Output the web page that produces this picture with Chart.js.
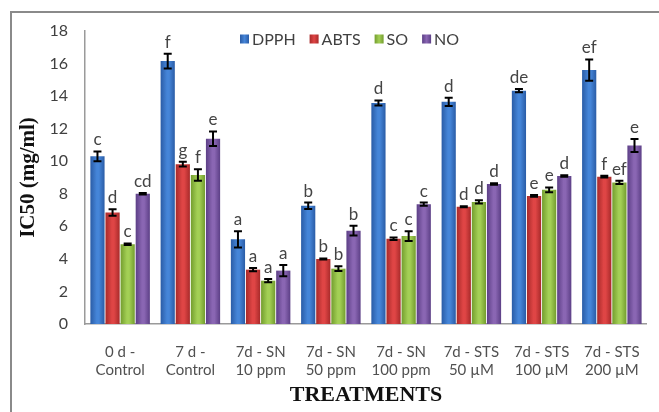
<!DOCTYPE html>
<html>
<head>
<meta charset="utf-8">
<script src="https://cdn.jsdelivr.net/npm/chart.js@4"></script>
<style>
  html, body { margin: 0; padding: 0; background: #fff; }
  #wrap { width: 659px; height: 412px; position: relative; }
</style>
</head>
<body>
<div id="wrap"><canvas id="chart" width="659" height="412"></canvas></div>
<script>
// treatments on the x axis
const categories = [
  ['0 d -', 'Control'], ['7 d -', 'Control'], ['7d - SN', '10 ppm'], ['7d - SN', '50 ppm'],
  ['7d - SN', '100 ppm'], ['7d - STS', '50 µM'], ['7d - STS', '100 µM'], ['7d - STS', '200 µM']
];

// IC50 values (mg/ml)
const dpph = [10.3, 16.15, 5.2, 7.26, 13.58, 13.65, 14.33, 15.6];
const abts = [6.85, 9.82, 3.34, 4.0, 5.24, 7.2, 7.87, 9.05];
const so   = [4.9, 9.15, 2.66, 3.4, 5.4, 7.5, 8.24, 8.7];
const no   = [8.0, 11.38, 3.28, 5.73, 7.36, 8.6, 9.09, 10.96];

// error bar half-widths
const dpphErr = [0.3, 0.45, 0.5, 0.2, 0.15, 0.25, 0.1, 0.65];
const abtsErr = [0.2, 0.15, 0.1, 0.03, 0.08, 0.03, 0.05, 0.05];
const soErr   = [0.05, 0.35, 0.1, 0.15, 0.3, 0.1, 0.15, 0.1];
const noErr   = [0.05, 0.45, 0.35, 0.3, 0.1, 0.05, 0.05, 0.4];

// significance letters
const dpphSig = ['c', 'f', 'a', 'b', 'd', 'd', 'de', 'ef'];
const abtsSig = ['d', 'g', 'a', 'b', 'c', 'd', 'e', 'f'];
const soSig   = ['c', 'f', 'a', 'b', 'c', 'd', 'e', 'ef'];
const noSig   = ['cd', 'e', 'a', 'b', 'c', 'd', 'd', 'e'];

const yTicks = { min: 0, max: 18, step: 2 };

const series = [
  { label: 'DPPH', data: dpph, err: dpphErr, sig: dpphSig, mid: '#4585d8', edge: '#2a5ca6' },
  { label: 'ABTS', data: abts, err: abtsErr, sig: abtsSig, mid: '#df4545', edge: '#a82a2a' },
  { label: 'SO',   data: so,   err: soErr,   sig: soSig,   mid: '#a3cf55', edge: '#739d2e' },
  { label: 'NO',   data: no,   err: noErr,   sig: noSig,   mid: '#8a66b3', edge: '#5c3f86' }
];

// frame around the figure (left + top edges visible)
const framePlugin = {
  id: 'frame',
  beforeDraw(chart) {
    const c = chart.ctx;
    c.save();
    c.fillStyle = '#fff';
    c.fillRect(0, 0, chart.width, chart.height);
    c.strokeStyle = '#8a8a8a';
    c.lineWidth = 2;
    c.beginPath();
    c.moveTo(11, chart.height);
    c.lineTo(11, 12);
    c.lineTo(chart.width, 12);
    c.stroke();
    c.restore();
  }
};

// cylinder-like shading on each bar
const shadePlugin = {
  id: 'shade',
  beforeDatasetsDraw(chart) {
    const c = chart.ctx;
    chart.data.datasets.forEach((ds, di) => {
      const s = series[di];
      chart.getDatasetMeta(di).data.forEach(el => {
        const half = el.width / 2;
        const g = c.createLinearGradient(el.x - half, 0, el.x + half, 0);
        g.addColorStop(0, s.edge);
        g.addColorStop(0.45, s.mid);
        g.addColorStop(0.6, s.mid);
        g.addColorStop(1, s.edge);
        el.options = Object.assign({}, el.options, { backgroundColor: g });
      });
    });
  }
};

// error bars + letters
const errPlugin = {
  id: 'errbars',
  afterDatasetsDraw(chart) {
    const c = chart.ctx;
    const y = chart.scales.y;
    c.save();
    chart.data.datasets.forEach((ds, di) => {
      const s = series[di];
      chart.getDatasetMeta(di).data.forEach((el, i) => {
        const v = s.data[i], e = s.err[i];
        const yt = y.getPixelForValue(v + e);
        const yb = y.getPixelForValue(v - e);
        c.strokeStyle = '#000';
        c.lineWidth = 2;
        c.beginPath();
        c.moveTo(el.x, yt); c.lineTo(el.x, yb);
        c.moveTo(el.x - 4, yt); c.lineTo(el.x + 4, yt);
        c.moveTo(el.x - 4, yb); c.lineTo(el.x + 4, yb);
        c.stroke();
        c.fillStyle = '#444';
        c.font = '17px Lato';
        c.textAlign = 'center';
        c.textBaseline = 'bottom';
        c.fillText(s.sig[i], el.x, yt - 3);
      });
    });
    c.restore();
  }
};

// legend drawn inside the plot, near the top
const legendPlugin = {
  id: 'innerLegend',
  afterDraw(chart) {
    const c = chart.ctx;
    c.save();
    c.font = '16px Lato';
    c.textBaseline = 'middle';
    c.textAlign = 'left';
    let x = 240;
    const yc = 39;
    series.forEach(s => {
      const g = c.createLinearGradient(x, 0, x + 9, 0);
      g.addColorStop(0, s.edge); g.addColorStop(0.5, s.mid); g.addColorStop(1, s.edge);
      c.fillStyle = g;
      c.fillRect(x, yc - 4.5, 9, 9);
      c.fillStyle = '#404040';
      c.fillText(s.label, x + 12, yc + 1);
      x += 12 + c.measureText(s.label).width + 14;
    });
    c.restore();
  }
};

new Chart(document.getElementById('chart'), {
  type: 'bar',
  data: {
    labels: categories,
    datasets: series.map(s => ({
      label: s.label,
      data: s.data,
      backgroundColor: s.mid,
      borderWidth: 0,
      categoryPercentage: 0.86,
      barPercentage: 0.94
    }))
  },
  options: {
    responsive: false,
    animation: false,
    layout: { padding: { left: 12, right: 7, top: 31, bottom: 0 } },
    plugins: {
      legend: { display: false },
      tooltip: { enabled: false }
    },
    scales: {
      x: {
        grid: { display: false, drawTicks: false },
        border: { display: true, color: '#9a9a9a', width: 1.5 },
        ticks: {
          color: '#505050',
          font: { family: 'Lato', size: 15 },
          padding: 19,
          maxRotation: 0,
          autoSkip: false
        },
        title: {
          display: true,
          text: 'TREATMENTS',
          color: '#111',
          font: { family: 'Liberation Serif', size: 22, weight: 'bold' },
          padding: { top: 0, bottom: 3 }
        },
        afterFit(scale) { scale.height = 88; }
      },
      y: {
        min: yTicks.min,
        max: yTicks.max,
        grid: { display: false, drawTicks: false },
        border: { display: true, color: '#9a9a9a', width: 1.5 },
        ticks: {
          stepSize: yTicks.step,
          color: '#404040',
          font: { family: 'Lato', size: 16 },
          padding: 17
        },
        title: {
          display: true,
          text: 'IC50 (mg/ml)',
          color: '#111',
          font: { family: 'Liberation Serif', size: 21, weight: 'bold' },
          padding: { top: 4, bottom: 4 }
        },
        afterFit(scale) { scale.width = 73; }
      }
    }
  },
  plugins: [framePlugin, shadePlugin, errPlugin, legendPlugin]
});
</script>
</body>
</html>
